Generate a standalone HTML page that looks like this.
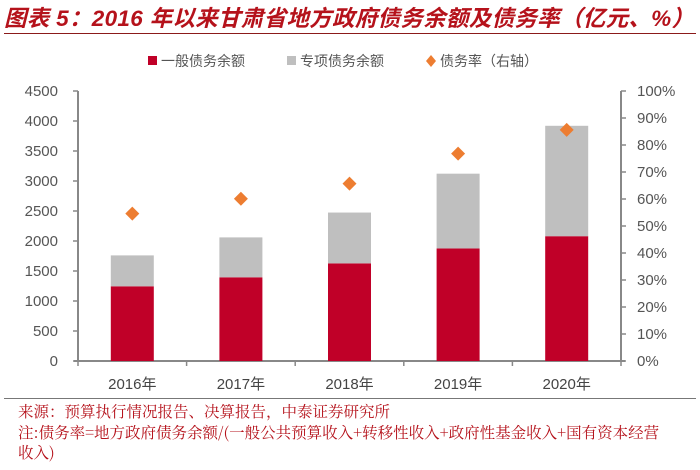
<!DOCTYPE html>
<html><head><meta charset="utf-8">
<style>
body{margin:0;width:700px;height:470px;background:#fff;overflow:hidden;font-family:"Liberation Sans","Noto Sans CJK SC",sans-serif;}
.title{position:absolute;left:4px;top:1px;font-size:22.5px;font-weight:bold;font-style:italic;color:#b5121b;letter-spacing:0.3px;white-space:nowrap;font-family:"Liberation Sans","Noto Sans CJK SC",sans-serif;}
.note{position:absolute;left:18px;font-size:15.5px;line-height:18px;color:#b5121b;font-family:"Noto Serif CJK SC","Noto Sans CJK SC",serif;white-space:nowrap;}
</style></head><body>
<div class="title">图表 5：2016 年以来甘肃省地方政府债务余额及债务率（亿元、%）</div>
<div style="position:absolute;left:4px;top:33px;width:692px;height:1px;background:#8b1a1a"></div>
<svg id="chart" width="700" height="470" style="position:absolute;left:0;top:0"></svg>
<div style="position:absolute;left:4px;top:398px;width:692px;height:1px;background:#777"></div>
<div class="note" style="top:402px">来源：预算执行情况报告、决算报告，中泰证券研究所</div>
<div class="note" style="top:423px">注:债务率=地方政府债务余额/(一般公共预算收入+转移性收入+政府性基金收入+国有资本经营</div>
<div class="note" style="top:443px">收入)</div>
<script>
const categories=["2016年","2017年","2018年","2019年","2020年"];
const generalDebt=[1245,1395,1627,1876,2080];
const specialDebt=[515,665,847,1246,1840];
const debtRatio=[54.6,60.1,65.7,76.8,85.6];
const leftTicks=[0,500,1000,1500,2000,2500,3000,3500,4000,4500];
const rightTicks=[0,10,20,30,40,50,60,70,80,90,100];
const NS="http://www.w3.org/2000/svg";
const svg=document.getElementById('chart');
const X0=78,X1=621,Y0=361,Y1=91;
const band=(X1-X0)/categories.length;
function xc(i){return X0+band*(i+0.5);}
function yL(v){return Y0-(v/4500)*(Y0-Y1);}
function yR(v){return Y0-(v/100)*(Y0-Y1);}
function mk(t,a){const e=document.createElementNS(NS,t);for(const k in a)e.setAttribute(k,a[k]);svg.appendChild(e);return e;}
let e=mk('line',{x1:X0,y1:Y1,x2:X0,y2:Y0,stroke:'#888','stroke-width':2});

e=mk('line',{x1:X1,y1:Y1,x2:X1,y2:Y0,stroke:'#888','stroke-width':2});

e=mk('line',{x1:X0-4,y1:Y0,x2:X1+4,y2:Y0,stroke:'#888','stroke-width':2});

leftTicks.forEach(v=>{
 mk('line',{x1:X0-5,y1:yL(v),x2:X0,y2:yL(v),stroke:'#888','stroke-width':1.5});
 const t=mk('text',{x:X0-20,y:yL(v)+5,'text-anchor':'end','font-size':15,fill:'#555'});t.textContent=v;
 
});
rightTicks.forEach(v=>{
 mk('line',{x1:X1,y1:yR(v),x2:X1+5,y2:yR(v),stroke:'#888','stroke-width':1.5});
 const t=mk('text',{x:637,y:yR(v)+5,'font-size':15,fill:'#555'});t.textContent=v+'%';
 
});
for(let i=0;i<=categories.length;i++){mk('line',{x1:X0+band*i,y1:Y0,x2:X0+band*i,y2:Y0+5,stroke:'#888','stroke-width':1.5});}
categories.forEach((c,i)=>{
 const bw=43,x=xc(i)-bw/2;
 const g=mk('rect',{x:x,y:yL(generalDebt[i]),width:bw,height:Y0-yL(generalDebt[i]),fill:'#c00028'});
 
 const tot=generalDebt[i]+specialDebt[i];
 const s=mk('rect',{x:x,y:yL(tot),width:bw,height:yL(generalDebt[i])-yL(tot),fill:'#bfbfbf'});
 
 const cx=xc(i),cy=yR(debtRatio[i]);
 const d=mk('polygon',{points:`${cx},${cy-7} ${cx+7},${cy} ${cx},${cy+7} ${cx-7},${cy}`,fill:'#ed7d31'});
 
 const t=mk('text',{x:cx,y:389,'text-anchor':'middle','font-size':15,fill:'#444'});t.textContent=c;
 
});
const lg=[["一般债务余额",'#c00028','rect',148],["专项债务余额",'#bfbfbf','rect',287],["债务率（右轴）",'#ed7d31','dia',427]];
lg.forEach(l=>{
 let m;
 if(l[2]==='rect')m=mk('rect',{x:l[3],y:56,width:9,height:9,fill:l[1]});
 else m=mk('polygon',{points:`${l[3]+4},55 ${l[3]+9},61 ${l[3]+4},67 ${l[3]-1},61`,fill:l[1]});
 
 const t=mk('text',{x:l[3]+13,y:66,'font-size':14,fill:'#555'});t.textContent=l[0];
 
});
</script>
</body></html>
